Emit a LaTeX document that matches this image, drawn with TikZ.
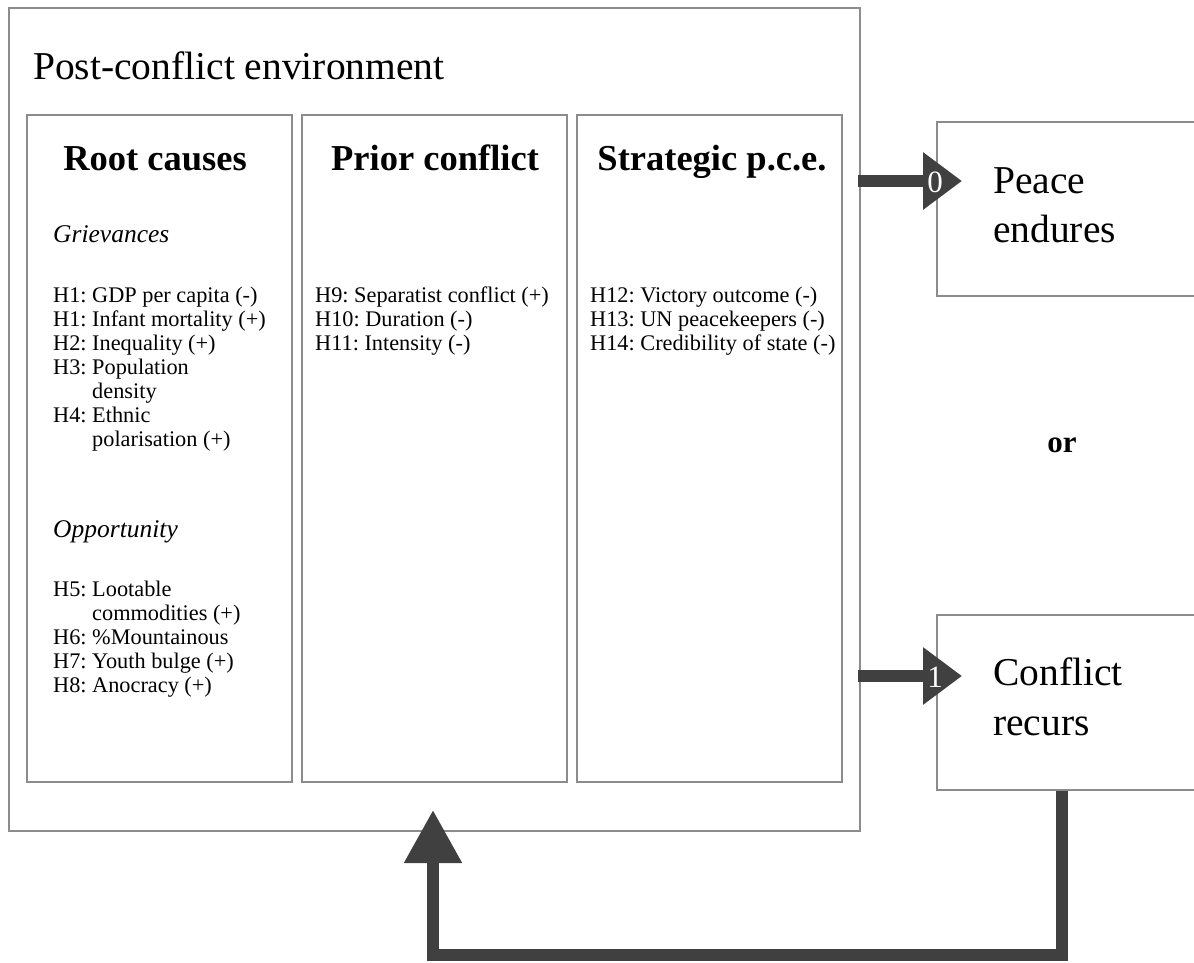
\documentclass[tikz,border=0pt]{standalone}
\usepackage{fontspec}
\setmainfont{Liberation Serif}
\usetikzlibrary{arrows.meta}
\definecolor{flowgray}{HTML}{404040}
\definecolor{boxgray}{HTML}{8C8C8C}
\frenchspacing
\begin{document}
\begin{tikzpicture}[x=1pt,y=-1pt,
  panel/.style={draw=boxgray, line width=1.2pt},
  head/.style={font=\fontsize{36.5}{40}\selectfont\bfseries, anchor=base, inner sep=0pt},
  sub/.style={font=\fontsize{25.5}{30}\selectfont\itshape, anchor=base west, inner sep=0pt},
  item/.style={font=\fontsize{22.3}{24}\selectfont, anchor=base west, inner sep=0pt},
  outcome/.style={font=\fontsize{39.5}{48}\selectfont, anchor=base west, inner sep=0pt},
  flow/.style={draw=flowgray, line width=11.5pt},
  num/.style={text=white, font=\fontsize{31}{31}\selectfont, inner sep=0pt}]
  \useasboundingbox (0,0) rectangle (1194,962);
  \clip (0,0) rectangle (1194,962);
  % frames
  \draw[panel] (9,8) rectangle (860,831);
  \node[minimum width=851, minimum height=823, inner sep=0pt] (env) at (434.5,419.5) {};
  \draw[panel] (27,115) rectangle (292,782);
  \draw[panel] (302,115) rectangle (567,782);
  \draw[panel] (577,115) rectangle (842,782);
  \node[panel, minimum width=300, minimum height=174, inner sep=0pt] (peace) at (1087,209) {};
  \node[panel, minimum width=300, minimum height=175, inner sep=0pt] (recurs) at (1087,702.5) {};
  % texts
  \node[font=\fontsize{39.5}{44}\selectfont, anchor=base west, inner sep=0pt] (title) at (33,79) {Post-conflict environment};
  \node[head] (h1) at (155,170) {Root causes};
  \node[head] (h2) at (435,170) {Prior conflict};
  \node[head] (h3) at (712,170) {Strategic p.c.e.};
  \node[sub] (griev) at (53,242) {Grievances};
  \node[sub] (opp) at (53,537) {Opportunity};
  \foreach \t [count=\i] in {H1: GDP per capita (-), H1: Infant mortality (+), H2: Inequality (+),
      H3: Population, \phantom{H3: }density, H4: Ethnic, \phantom{H4: }polarisation (+)}
    \node[item] (g\i) at (53,{302+24*(\i-1)}) {\t};
  \foreach \t [count=\i] in {H5: Lootable, \phantom{H5: }commodities (+), H6: \%Mountainous,
      H7: Youth bulge (+), H8: Anocracy (+)}
    \node[item] (o\i) at (53,{596+24*(\i-1)}) {\t};
  \foreach \t [count=\i] in {H9: Separatist conflict (+), H10: Duration (-), H11: Intensity (-)}
    \node[item] (p\i) at (315,{302+24*(\i-1)}) {\t};
  \foreach \t [count=\i] in {H12: Victory outcome (-), H13: UN peacekeepers (-), H14: Credibility of state (-)}
    \node[item] (s\i) at (590,{302+24*(\i-1)}) {\t};
  \node[outcome] (peace1) at (993,193) {Peace};
  \node[outcome] (peace2) at (993,242) {endures};
  \node[outcome] (recurs1) at (993,685) {Conflict};
  \node[outcome] (recurs2) at (993,735) {recurs};
  \node[font=\fontsize{31}{34}\selectfont\bfseries, anchor=base, inner sep=0pt] (or) at (1062,452) {or};
  % arrows
  \coordinate (tip0) at (962,181);
  \coordinate (tip1) at (962,676);
  \coordinate (back) at (433,810);
  \draw[flow, -{Triangle[width=55pt, length=39pt]}] (858,181) -- (tip0);
  \draw[flow, -{Triangle[width=55pt, length=39pt]}] (858,676) -- (tip1);
  \draw[flow, -{Triangle[width=55pt, length=53pt]}] (recurs.south -| 1062,0) -- (1062,955) -| (back);
  \node[num] (n0) at (935,182) {0};
  \node[num] (n1) at (935,677) {1};
\end{tikzpicture}
\end{document}
